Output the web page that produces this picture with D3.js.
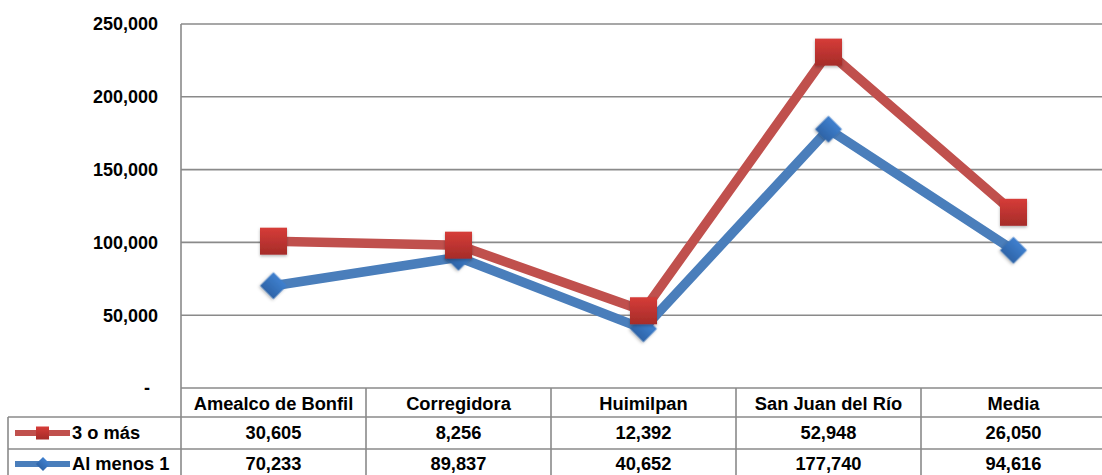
<!DOCTYPE html>
<html><head><meta charset="utf-8">
<script src="https://cdn.jsdelivr.net/npm/d3@7"></script>
<style>
body{margin:0;background:#fff;}
svg{display:block;font-family:"Liberation Sans",Arial,sans-serif;font-weight:bold;}
</style></head>
<body>
<svg id="c" width="1102" height="475"></svg>
<script>
const categories = ["Amealco de Bonfil","Corregidora","Huimilpan","San Juan del Río","Media"];
const seriesNames = ["3 o más","Al menos 1"];
const tresOMas = [30605, 8256, 12392, 52948, 26050];
const alMenos1 = [70233, 89837, 40652, 177740, 94616];
const yTicks = [0, 50000, 100000, 150000, 200000, 250000];
const yTickLabels = ["-", "50,000", "100,000", "150,000", "200,000", "250,000"];

(function(){
const svg = d3.select("#c");
const pLeft = 181, pRight = 1106, pTop = 24, zeroY = 388;
const x = d3.scaleBand().domain(categories).range([pLeft, pRight]);
const y = d3.scaleLinear().domain([0, 250000]).range([zeroY, pTop]);
const grid = "#8a8a8a";

const stackBlue = alMenos1.slice();
const stackRed = alMenos1.map((v,i)=>v + tresOMas[i]);

const defs = svg.append("defs");
const gr = defs.append("linearGradient").attr("id","gRed").attr("x1",0).attr("y1",0).attr("x2",0).attr("y2",1);
gr.append("stop").attr("offset","0%").attr("stop-color","#d63c38");
gr.append("stop").attr("offset","100%").attr("stop-color","#a52c29");
const gb = defs.append("linearGradient").attr("id","gBlue").attr("x1",0).attr("y1",0).attr("x2",0).attr("y2",1);
gb.append("stop").attr("offset","0%").attr("stop-color","#3f80cf");
gb.append("stop").attr("offset","100%").attr("stop-color","#2e64a8");
const sh = defs.append("filter").attr("id","sh").attr("x","-50%").attr("y","-50%").attr("width","200%").attr("height","200%");
sh.append("feDropShadow").attr("dx",0).attr("dy",1.5).attr("stdDeviation",1.5).attr("flood-color","#000").attr("flood-opacity",0.3);

svg.append("g").selectAll("line").data(yTicks.slice(1)).join("line")
  .attr("x1", pLeft).attr("x2", 1102).attr("y1", d=>y(d)).attr("y2", d=>y(d))
  .attr("stroke", grid).attr("stroke-width", 1.6);

svg.append("g").selectAll("text").data(yTicks).join("text")
  .attr("x", (d,i)=> i===0 ? 150 : 158).attr("y", d=>y(d)).attr("dy","0.35em")
  .attr("text-anchor","end").attr("font-size", 18).attr("fill","#000")
  .text((d,i)=>yTickLabels[i]);

const rowTop = [zeroY, 417, 449, 481];
const tbl = svg.append("g").attr("stroke", grid).attr("stroke-width", 1.6);
tbl.append("line").attr("x1",pLeft).attr("x2",pLeft).attr("y1",pTop).attr("y2",475);
tbl.append("line").attr("x1",pLeft).attr("x2",1102).attr("y1",zeroY).attr("y2",zeroY);
tbl.append("line").attr("x1",8).attr("x2",1102).attr("y1",rowTop[1]).attr("y2",rowTop[1]);
tbl.append("line").attr("x1",8).attr("x2",1102).attr("y1",rowTop[2]).attr("y2",rowTop[2]);
tbl.append("line").attr("x1",8).attr("x2",8).attr("y1",rowTop[1]).attr("y2",475);
tbl.selectAll("line.v").data(categories.slice(1)).join("line").attr("class","v")
  .attr("x1",d=>x(d)).attr("x2",d=>x(d)).attr("y1",zeroY).attr("y2",475);

const fmt = d3.format(",");
const tx = svg.append("g").attr("font-size",18.3).attr("fill","#000").attr("text-anchor","middle");
tx.selectAll("text.h").data(categories).join("text").attr("class","h")
  .attr("x",d=>x(d)+x.bandwidth()/2).attr("y",(rowTop[0]+rowTop[1])/2+1).attr("dy","0.35em").text(d=>d);
tx.selectAll("text.r").data(tresOMas).join("text").attr("class","r")
  .attr("x",(d,i)=>x(categories[i])+x.bandwidth()/2).attr("y",(rowTop[1]+rowTop[2])/2).attr("dy","0.35em").text(d=>fmt(d));
tx.selectAll("text.b").data(alMenos1).join("text").attr("class","b")
  .attr("x",(d,i)=>x(categories[i])+x.bandwidth()/2).attr("y",464).attr("dy","0.35em").text(d=>fmt(d));

const legY = [(rowTop[1]+rowTop[2])/2, 464];
svg.append("line").attr("x1",15).attr("x2",70).attr("y1",legY[0]).attr("y2",legY[0]).attr("stroke","#c0504d").attr("stroke-width",6).attr("stroke-linecap","butt");
svg.append("rect").attr("x",36).attr("y",legY[0]-6.5).attr("width",13).attr("height",13).attr("fill","url(#gRed)");
svg.append("line").attr("x1",15).attr("x2",70).attr("y1",legY[1]).attr("y2",legY[1]).attr("stroke","#4a7ebb").attr("stroke-width",6).attr("stroke-linecap","butt");
svg.append("rect").attr("x",-5).attr("y",-5).attr("width",10).attr("height",10).attr("transform",`translate(43,${legY[1]}) rotate(45)`).attr("fill","url(#gBlue)");
svg.append("g").attr("font-size",18.3).attr("fill","#000").selectAll("text").data(seriesNames).join("text")
  .attr("x",72).attr("y",(d,i)=>legY[i]).attr("dy","0.35em").text(d=>d);

const line = d3.line().x((d,i)=>x(categories[i])+x.bandwidth()/2).y(d=>y(d));
svg.append("path").attr("d",line(stackBlue)).attr("fill","none").attr("stroke","#4a7ebb").attr("stroke-width",9.5).attr("stroke-linejoin","round");
svg.append("path").attr("d",line(stackRed)).attr("fill","none").attr("stroke","#c0504d").attr("stroke-width",9.5).attr("stroke-linejoin","round");

svg.append("g").selectAll("rect").data(stackBlue).join("rect")
  .attr("x",-9.5).attr("y",-9.5).attr("width",19).attr("height",19)
  .attr("transform",(d,i)=>`translate(${x(categories[i])+x.bandwidth()/2},${y(d)}) rotate(45)`)
  .attr("fill","url(#gBlue)").attr("filter","url(#sh)");
svg.append("g").selectAll("rect").data(stackRed).join("rect")
  .attr("x",(d,i)=>x(categories[i])+x.bandwidth()/2-13.5).attr("y",d=>y(d)-13.5)
  .attr("width",27).attr("height",27).attr("fill","url(#gRed)").attr("filter","url(#sh)");
})();
</script>
</body></html>
